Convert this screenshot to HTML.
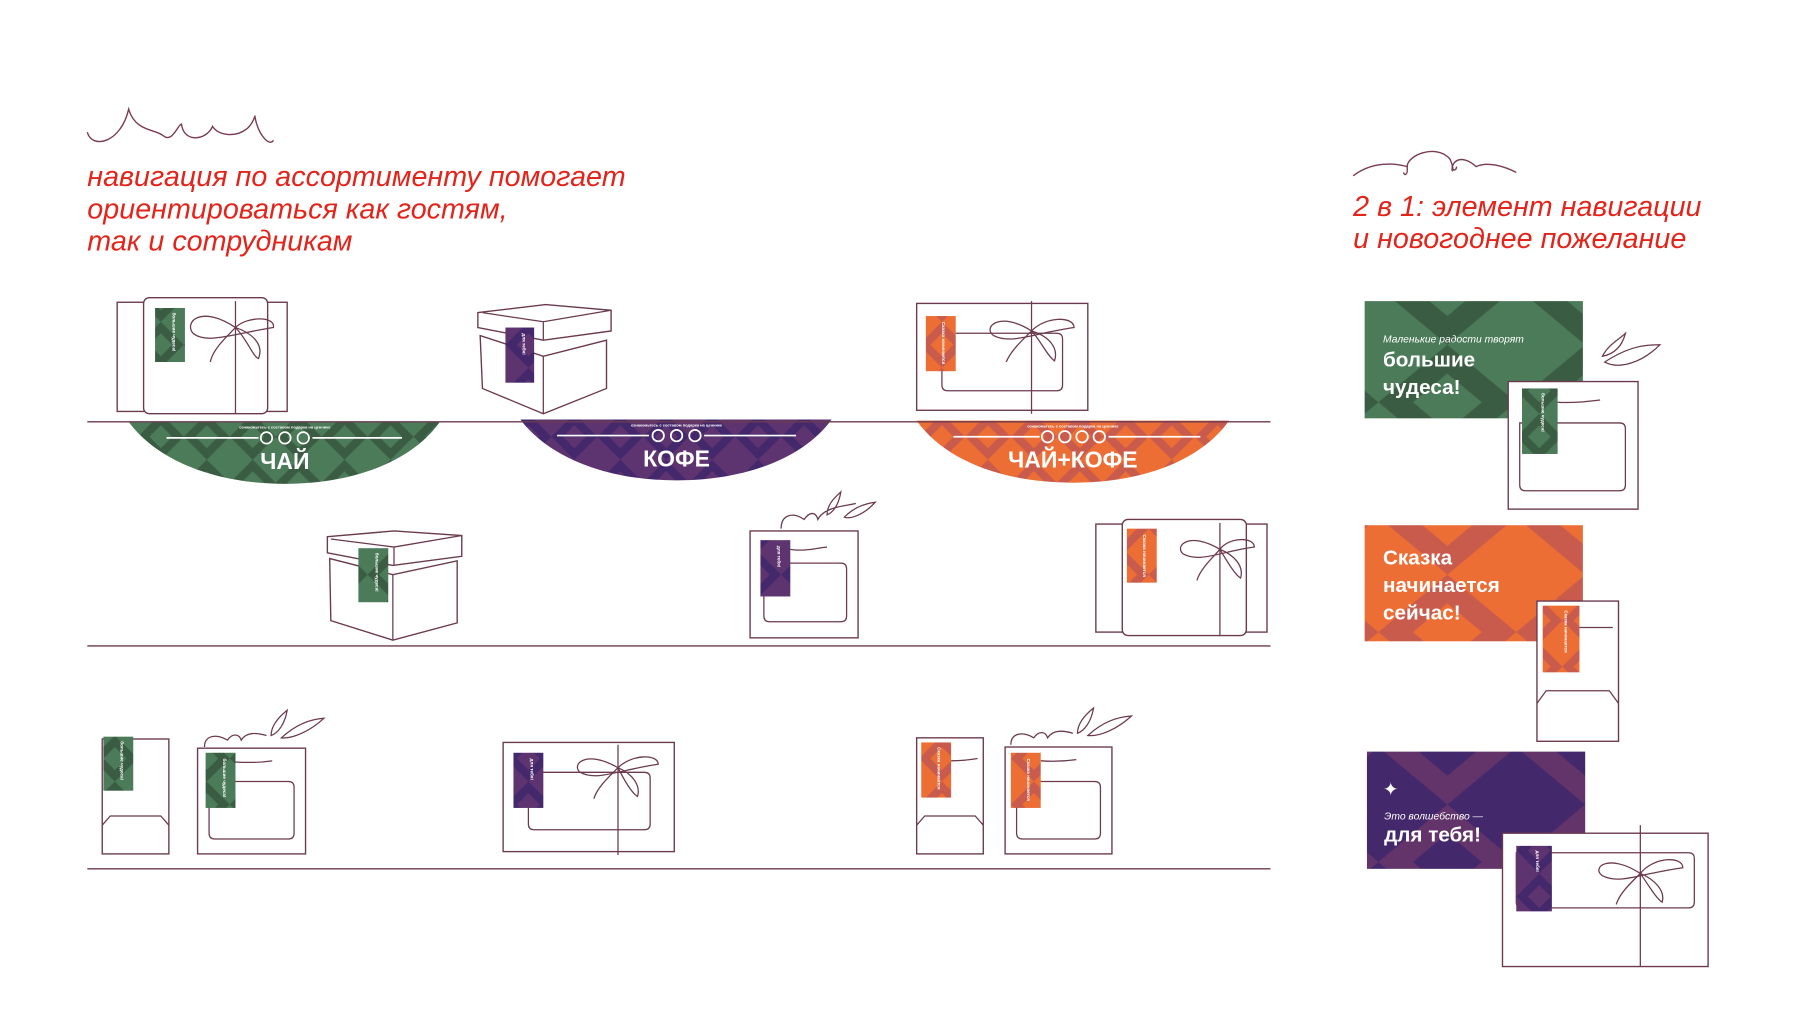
<!DOCTYPE html>
<html><head><meta charset="utf-8"><style>
html,body{margin:0;padding:0;background:#fff;}
svg{display:block;}
.t{font-family:"Liberation Sans","DejaVu Sans",sans-serif;}
</style></head><body>
<svg width="1800" height="1024" viewBox="0 0 1567 891" preserveAspectRatio="none" xmlns="http://www.w3.org/2000/svg">
<defs>
<pattern id="pg" width="40" height="40" patternUnits="userSpaceOnUse"><rect width="40" height="40" fill="#4b7b58"/><path d="M0 20 L20 0 L40 20 L20 40Z" fill="#3a5c42"/><path d="M10 20 L20 10 L30 20 L20 30Z" fill="#4b7b58"/></pattern>
<pattern id="pp" width="40" height="40" patternUnits="userSpaceOnUse"><rect width="40" height="40" fill="#5e3470"/><path d="M0 20 L20 0 L40 20 L20 40Z" fill="#44286c"/><path d="M10 20 L20 10 L30 20 L20 30Z" fill="#5e3470"/></pattern>
<pattern id="po" width="40" height="40" patternUnits="userSpaceOnUse"><rect width="40" height="40" fill="#ec6e35"/><path d="M0 20 L20 0 L40 20 L20 40Z" fill="#c95b4d"/><path d="M10 20 L20 10 L30 20 L20 30Z" fill="#ec6e35"/></pattern>
<pattern id="pgL" width="120" height="100" patternUnits="userSpaceOnUse"><rect width="120" height="100" fill="#4b7b58"/><path d="M0 50 L60 0 L120 50 L60 100Z" fill="#3a5c42"/><path d="M30 50 L60 25 L90 50 L60 75Z" fill="#4b7b58"/></pattern>
<pattern id="poL" width="120" height="100" patternUnits="userSpaceOnUse"><rect width="120" height="100" fill="#ec6e35"/><path d="M0 50 L60 0 L120 50 L60 100Z" fill="#c95b4d"/><path d="M30 50 L60 25 L90 50 L60 75Z" fill="#ec6e35"/></pattern>
<pattern id="ppL" width="120" height="100" patternUnits="userSpaceOnUse"><rect width="120" height="100" fill="#44286c"/><path d="M0 50 L60 0 L120 50 L60 100Z" fill="#62346a"/><path d="M30 50 L60 25 L90 50 L60 75Z" fill="#44286c"/></pattern>
</defs>

<g fill="none" stroke="#7a3a55" stroke-width="1.2">
<path d="M76 115 C80 130 105 125 112 95 C118 115 135 112 142 118 C150 125 155 108 158 108 C160 125 180 122 185 110 C190 118 205 120 215 112 C222 106 222 98 222 102 C225 118 235 128 238 122"/>
<path d="M1178 153 C1195 140 1215 142 1225 145 C1225 135 1250 125 1262 138 C1268 150 1262 152 1265 143 C1270 135 1280 140 1285 145 C1295 140 1310 145 1320 150"/>
<path d="M1222 150 C1222 153 1226 153 1225 145 M1265 143 C1262 148 1268 150 1268 145"/>
</g>

<g class="t" fill="#e3241b" font-style="italic" font-size="25">
<text x="76" y="162">навигация по ассортименту помогает</text>
<text x="76" y="190">ориентироваться как гостям,</text>
<text x="76" y="218">так и сотрудникам</text>
<text x="1178" y="188">2 в 1: элемент навигации</text>
<text x="1178" y="216">и новогоднее пожелание</text>
</g>

<path d="M112 367 L383 367 C360 400 310 421 248 421 C186 421 136 400 112 367Z" fill="url(#pg)"/>
<path d="M453 365 L724 365 C700 398 650 418 589 418 C528 418 478 398 453 365Z" fill="url(#pp)"/>
<path d="M798 366 L1070 366 C1046 400 996 420 934 420 C872 420 822 400 798 366Z" fill="url(#po)"/>
<g stroke="#fff" stroke-width="1.5" fill="none">
<path d="M145 381 H225 M272 381 H350"/><circle cx="232" cy="381" r="5"/><circle cx="248" cy="381" r="5"/><circle cx="264" cy="381" r="5"/>
<path d="M485 379 H565 M613 379 H693"/><circle cx="573" cy="379" r="5"/><circle cx="589" cy="379" r="5"/><circle cx="605" cy="379" r="5"/>
<path d="M830 380 H905 M965 380 H1045"/><circle cx="912" cy="380" r="5"/><circle cx="927" cy="380" r="5"/><circle cx="942" cy="380" r="5"/><circle cx="957" cy="380" r="5"/>
</g>
<g class="t" fill="#fff" font-weight="bold" text-anchor="middle">
<text x="248" y="408" font-size="20">ЧАЙ</text>
<text x="589" y="406" font-size="20">КОФЕ</text>
<text x="934" y="407" font-size="20">ЧАЙ+КОФЕ</text>
<text x="248" y="373" font-size="3.5">ознакомьтесь с составом подарка на ценнике</text>
<text x="589" y="371" font-size="3.5">ознакомьтесь с составом подарка на ценнике</text>
<text x="934" y="372" font-size="3.5">ознакомьтесь с составом подарка на ценнике</text>
</g>

<g stroke="#6b3a4f" stroke-width="1.2">
<line x1="76" y1="367" x2="1106" y2="367"/>
<line x1="76" y1="562" x2="1106" y2="562"/>
<line x1="76" y1="756" x2="1106" y2="756"/>
</g>

<rect x="1188" y="262" width="190" height="102" fill="url(#pgL)"/>
<rect x="1188" y="457" width="190" height="101" fill="url(#poL)"/>
<rect x="1190" y="654" width="190" height="102" fill="url(#ppL)"/>
<g class="t" fill="#fff" font-weight="bold">
<text x="1204" y="298" font-size="9" font-style="italic" font-weight="normal">Маленькие радости творят</text>
<text x="1204" y="319" font-size="18">большие</text>
<text x="1204" y="343" font-size="18">чудеса!</text>
<text x="1204" y="491" font-size="18">Сказка</text>
<text x="1204" y="515" font-size="18">начинается</text>
<text x="1204" y="539" font-size="18">сейчас!</text>
<text x="1204" y="692" font-size="16">✦</text>
<text x="1205" y="713" font-size="9" font-style="italic" font-weight="normal">Это волшебство —</text>
<text x="1205" y="732" font-size="18">для тебя!</text>
</g>

<g fill="#fff" stroke="#6b3a4f" stroke-width="1.2">
<rect x="102" y="263" width="148" height="95"/>
<rect x="125" y="259" width="108" height="101" rx="5"/>
<path d="M418 292 L420 338 L473 360 L528 338 L528 296 L473 310Z"/>
<path d="M416 272 L475 265 L532 270 L532 288 L473 296 L416 285Z"/>
<rect x="798" y="264" width="149" height="93"/>
<path d="M287 486 L288 540 L342 557 L398 542 L398 488 L342 500Z"/>
<path d="M285 467 L343 462 L402 466 L402 484 L342 492 L285 481Z"/>
<rect x="653" y="462" width="94" height="93"/>
<rect x="954" y="456" width="149" height="94"/>
<rect x="977" y="452" width="108" height="101" rx="5"/>
<rect x="89" y="643" width="58" height="100"/>
<rect x="172" y="651" width="94" height="92"/>
<rect x="438" y="646" width="149" height="95"/>
<rect x="798" y="642" width="58" height="101"/>
<rect x="875" y="650" width="93" height="93"/>
<rect x="1313" y="332" width="113" height="111"/>
<rect x="1338" y="523" width="71" height="122"/>
<rect x="1308" y="725" width="179" height="116"/>
</g>

<g fill="none" stroke="#6b3a4f" stroke-width="1.1">
<path d="M205 262 V360"/>
<path d="M473 310 V360 M420 272 L473 280 L532 270 M473 280 V296"/>
<path d="M342 500 V557 M288 469 L343 476 L402 466 M343 476 V492"/>
<path d="M820 290 H920 Q925 290 925 295 V335 Q925 340 920 340 H825 Q820 340 820 335 Z M898 262 V360"/>
<path d="M665 490 H732 Q737 490 737 495 V536 Q737 541 732 541 H670 Q665 541 665 536 Z"/>
<path d="M1062 455 V553"/>
<path d="M89 718 L96 710 H140 L147 718"/>
<path d="M182 680 H251 Q256 680 256 685 V725 Q256 730 251 730 H187 Q182 730 182 725Z"/>
<path d="M460 672 H561 Q566 672 566 677 V717 Q566 722 561 722 H465 Q460 722 460 717Z M538 648 V744"/>
<path d="M798 718 L805 710 H849 L856 718"/>
<path d="M885 680 H953 Q958 680 958 685 V725 Q958 730 953 730 H890 Q885 730 885 725Z"/>
<path d="M1323 368 H1410 Q1415 368 1415 373 V422 Q1415 427 1410 427 H1328 Q1323 427 1323 422Z"/>
<path d="M1338 612 L1346 601 H1401 L1409 612 M1375 546 H1404"/>
<path d="M1320 742 H1470 Q1475 742 1475 747 V785 Q1475 790 1470 790 H1325 Q1320 790 1320 785 Z M1428 718 V841"/>
<path d="M205 285 C175 265 160 280 168 290 C180 300 205 290 238 285 C240 275 215 275 205 285 C220 290 230 300 225 312 C220 310 215 295 205 285 C195 295 185 305 183 315"/>
<path d="M898 288 C870 270 855 285 865 292 C880 300 900 290 935 285 C935 275 910 275 898 288 C912 292 922 302 918 314 C912 310 905 295 898 288 C890 296 880 305 876 315"/>
<path d="M1062 478 C1035 462 1022 475 1030 482 C1045 490 1062 480 1092 476 C1092 467 1070 467 1062 478 C1075 483 1083 493 1080 503 C1075 500 1068 488 1062 478 C1055 486 1045 495 1042 505"/>
<path d="M538 668 C510 652 497 665 505 672 C520 680 538 670 573 665 C573 656 550 656 538 668 C550 673 558 683 555 693 C550 690 543 678 538 668 C530 676 520 685 517 695"/>
<path d="M1428 760 C1400 742 1385 755 1395 762 C1410 770 1428 760 1465 755 C1465 745 1440 745 1428 760 C1440 765 1450 775 1447 785 C1442 782 1435 770 1428 760 C1420 768 1410 777 1407 787"/>
<path d="M688 478 C700 480 710 477 720 476 M1356 350 C1370 351 1385 349 1393 348 M205 663 C220 664 230 663 237 662 M906 662 C920 663 930 662 937 661 M828 662 C835 662 845 661 851 660"/>
<path d="M680 460 C680 448 690 445 700 452 C705 445 710 445 712 452 C718 440 740 440 745 438 M720 448 C720 438 728 432 732 428 C730 440 725 446 720 448 Z M735 450 C745 440 755 438 762 437 C752 448 740 452 735 450Z"/>
<path d="M178 650 C178 640 188 638 198 644 C202 638 208 638 210 644 C215 636 225 638 232 640 M236 640 C236 630 245 622 250 618 C248 630 242 638 236 640Z M245 642 C258 630 270 626 282 625 C270 636 255 643 245 642Z"/>
<path d="M880 648 C880 638 890 636 900 642 C904 636 910 636 912 642 C917 634 927 636 934 638 M938 638 C938 628 947 620 952 616 C950 628 944 636 938 638Z M947 640 C960 628 972 624 985 623 C973 634 958 641 947 640Z"/>
<path d="M1395 310 C1400 300 1410 295 1415 290 C1412 302 1405 308 1395 310Z M1397 315 C1420 300 1435 300 1445 300 C1430 315 1410 322 1397 315Z"/>
</g>

<g>
<rect x="135" y="268" width="26" height="47" fill="url(#pg)"/>
<rect x="440" y="285" width="25" height="48" fill="url(#pp)"/>
<rect x="806" y="275" width="26" height="48" fill="url(#po)"/>
<rect x="312" y="477" width="26" height="47" fill="url(#pg)"/>
<rect x="662" y="470" width="26" height="49" fill="url(#pp)"/>
<rect x="981" y="460" width="26" height="47" fill="url(#po)"/>
<rect x="90" y="641" width="26" height="47" fill="url(#pg)"/>
<rect x="179" y="655" width="26" height="48" fill="url(#pg)"/>
<rect x="447" y="655" width="26" height="48" fill="url(#pp)"/>
<rect x="802" y="646" width="26" height="48" fill="url(#po)"/>
<rect x="880" y="655" width="26" height="48" fill="url(#po)"/>
<rect x="1325" y="338" width="31" height="57" fill="url(#pg)"/>
<rect x="1343" y="527" width="32" height="58" fill="url(#po)"/>
<rect x="1320" y="736" width="31" height="57" fill="url(#pp)"/>
</g>
<g class="t" fill="#fff" font-size="4" font-weight="bold">
<text transform="translate(150,272) rotate(90)">большие чудеса!</text>
<text transform="translate(455,290) rotate(90)">для тебя!</text>
<text transform="translate(820,280) rotate(90)">Сказка начинается</text>
<text transform="translate(327,481) rotate(90)">большие чудеса!</text>
<text transform="translate(677,475) rotate(90)">для тебя!</text>
<text transform="translate(995,465) rotate(90)">Сказка начинается</text>
<text transform="translate(105,645) rotate(90)">большие чудеса!</text>
<text transform="translate(194,660) rotate(90)">большие чудеса!</text>
<text transform="translate(462,660) rotate(90)">для тебя!</text>
<text transform="translate(816,650) rotate(90)">Сказка начинается</text>
<text transform="translate(894,660) rotate(90)">Сказка начинается</text>
<text transform="translate(1342,342) rotate(90)">большие чудеса!</text>
<text transform="translate(1362,531) rotate(90)">Сказка начинается</text>
<text transform="translate(1337,740) rotate(90)">для тебя!</text>
</g>
</svg>
</body></html>
